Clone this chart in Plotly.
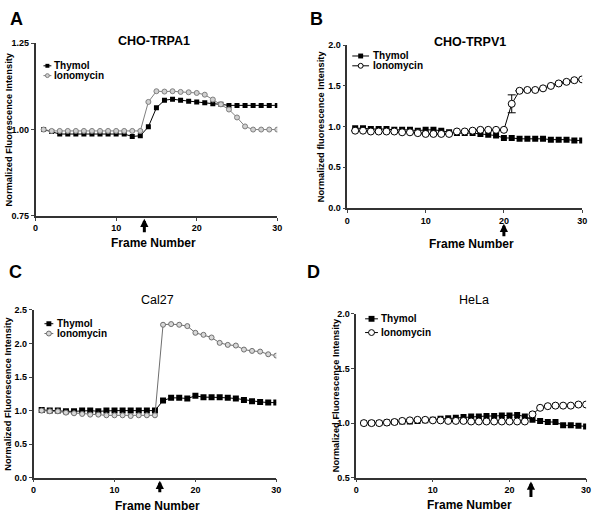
import plotly.graph_objects as go

frames = list(range(1, 31))

# Panel A: CHO-TRPA1
a_thymol = [1.000, 0.994, 0.987, 0.987, 0.987, 0.987, 0.987, 0.987, 0.987, 0.987, 0.987, 0.980, 0.982, 1.008, 1.063,
            1.085, 1.088, 1.085, 1.082, 1.080, 1.078, 1.075, 1.073, 1.070, 1.070, 1.070, 1.070, 1.070, 1.070, 1.070]
a_iono = [1.000, 0.996, 0.996, 0.996, 0.996, 0.996, 0.996, 0.996, 0.996, 0.996, 0.996, 0.996, 0.996, 1.080, 1.111,
          1.110, 1.111, 1.109, 1.108, 1.106, 1.101, 1.087, 1.073, 1.058, 1.035, 1.009, 1.000, 1.000, 1.000, 1.000]

# Panel B: CHO-TRPV1
b_thymol = [0.98, 0.98, 0.97, 0.97, 0.97, 0.96, 0.96, 0.96, 0.95, 0.96, 0.96, 0.95, 0.93, 0.92, 0.92,
            0.92, 0.91, 0.90, 0.89, 0.86, 0.86, 0.85, 0.85, 0.85, 0.85, 0.84, 0.84, 0.84, 0.83, 0.83]
b_iono = [0.95, 0.95, 0.94, 0.94, 0.94, 0.94, 0.93, 0.93, 0.92, 0.91, 0.91, 0.91, 0.91, 0.94, 0.94,
          0.95, 0.96, 0.96, 0.96, 0.96, 1.28, 1.44, 1.45, 1.45, 1.47, 1.50, 1.53, 1.55, 1.57, 1.58]
b_iono_err = [0] * 20 + [0.11] + [0] * 9

# Panel C: Cal27
c_thymol = [1.01, 1.00, 1.00, 0.99, 0.99, 1.00, 1.00, 0.99, 1.00, 1.00, 1.00, 1.00, 1.00, 1.00, 1.00,
            1.15, 1.19, 1.19, 1.18, 1.22, 1.20, 1.20, 1.20, 1.19, 1.18, 1.16, 1.14, 1.13, 1.12, 1.12]
c_iono = [1.00, 0.99, 0.99, 0.97, 0.96, 0.95, 0.94, 0.94, 0.93, 0.93, 0.93, 0.92, 0.93, 0.93, 0.93,
          2.28, 2.29, 2.28, 2.26, 2.16, 2.13, 2.09, 2.01, 1.98, 1.97, 1.91, 1.89, 1.88, 1.84, 1.82]

# Panel D: HeLa
d_thymol = [1.00, 1.00, 1.00, 1.005, 1.01, 1.015, 1.015, 1.02, 1.025, 1.03, 1.04, 1.045, 1.05, 1.055, 1.06,
            1.06, 1.065, 1.065, 1.07, 1.07, 1.075, 1.06, 1.03, 1.02, 1.01, 1.01, 0.98, 0.98, 0.975, 0.97]
d_iono = [1.00, 1.00, 1.00, 1.005, 1.01, 1.02, 1.025, 1.03, 1.03, 1.025, 1.025, 1.02, 1.02, 1.02, 1.015,
          1.015, 1.015, 1.015, 1.015, 1.015, 1.015, 1.015, 1.08, 1.14, 1.155, 1.16, 1.16, 1.16, 1.17, 1.17]

titles = ["CHO-TRPA1", "CHO-TRPV1", "Cal27", "HeLa"]
letters = ["A", "B", "C", "D"]
ytitles = ["Normalized Fluorescence Intensity", "Normalized fluorescence Intensity",
           "Normalized Fluorescence Intensity", "Normalized Fluorescence Intensity"]
series_names = ["Thymol", "Ionomycin"]
y_ranges = [(0.75, 1.25), (0.0, 2.0), (0.0, 2.5), (0.5, 2.0)]
y_dticks = [0.25, 0.5, 0.5, 0.5]
y_formats = [".2f", ".1f", ".1f", ".1f"]
x_ticks = [0, 10, 20, 30]
arrow_frames = [13.5, 20, 15.6, 22.8]

W, H = 600, 518
FONT = "Liberation Sans, Arial, sans-serif"

def px(x):
    return x / W

def py(y):
    return 1 - y / H

# pixel boxes of the plot areas: (left, right, top, bottom)
boxes = [(33, 278, 39, 215), (349, 587, 41, 207), (31, 277, 311, 482), (358, 591, 315, 482)]

fig = go.Figure()

series = [(a_thymol, a_iono, None), (b_thymol, b_iono, b_iono_err),
          (c_thymol, c_iono, None), (d_thymol, d_iono, None)]
sq_sizes = [5, 6, 6, 6]
ci_sizes = [5, 7, 5, 7]
ci_line = ["#7f7f7f", "#000000", "#6f6f6f", "#000000"]
ci_fill = ["#d0d0d0", "#ffffff", "#d8d8d8", "#ffffff"]

for i, (thy, ion, err) in enumerate(series):
    ax = "" if i == 0 else str(i + 1)
    fig.add_trace(go.Scatter(
        x=frames, y=thy, name=series_names[0], mode="lines+markers",
        line=dict(color="black", width=1),
        marker=dict(symbol="square", size=sq_sizes[i], color="black"),
        xaxis="x" + ax, yaxis="y" + ax, showlegend=False))
    kw = {}
    if err is not None:
        kw["error_y"] = dict(type="data", array=err, color="black", thickness=1, width=4)
    fig.add_trace(go.Scatter(
        x=frames, y=ion, name=series_names[1], mode="lines+markers",
        line=dict(color=ci_line[i], width=1),
        marker=dict(symbol="circle", size=ci_sizes[i], color=ci_fill[i],
                    line=dict(color=ci_line[i], width=1)),
        xaxis="x" + ax, yaxis="y" + ax, showlegend=False, **kw))

layout = dict(
    width=W, height=H, margin=dict(l=0, r=0, t=0, b=0),
    paper_bgcolor="white", plot_bgcolor="white",
    font=dict(family=FONT, color="black"),
    showlegend=False,
)

annotations = []
shapes = []

# manual legend geometry: (line x0, line x1, text x, y thymol, y ionomycin, marker size)
leg = [(41, 49, 50, 62, 72, 4), (354, 371, 373, 52, 62, 5),
       (42, 51, 53, 325, 335, 5), (367, 380, 381, 320, 334, 6)]
title_pos = [(153, 37, "bold"), (473, 38, "bold"), (157, 301, "normal"), (477, 301, "normal")]
letter_pos = [(5, 14), (309, 14), (4, 272), (306, 272)]
ytitle_x = [6, 322, 5, 337]
xtitle_pos = [(153, 243), (475, 244), (157, 511), (473, 510)]
arrow_y = [(218, 233), (223, 237), (485, 498), (486, 503)]

for i in range(4):
    l, r, t, b = boxes[i]
    ax = "" if i == 0 else str(i + 1)
    layout["xaxis" + ax] = dict(
        domain=[px(l), px(r)], range=[0, 30], anchor="y" + ax,
        tickvals=x_ticks, ticks="outside", ticklen=3, tickwidth=1,
        showline=True, linecolor="#333", linewidth=1.5, showgrid=False, zeroline=False,
        tickfont=dict(size=9, family=FONT, weight="bold"))
    y0, y1 = y_ranges[i]
    layout["yaxis" + ax] = dict(
        domain=[py(b), py(t)], range=[y0, y1], anchor="x" + ax,
        dtick=y_dticks[i], tick0=y0, tickformat=y_formats[i], ticks="outside", ticklen=3, tickwidth=1,
        showline=True, linecolor="#333", linewidth=1.5, showgrid=False, zeroline=False,
        tickfont=dict(size=9, family=FONT, weight="bold"))

    # manual legend
    lx0, lx1, tx, yt, yi, ms = leg[i]
    mx = (lx0 + lx1) / 2
    for yy, nm, is_sq in [(yt, series_names[0], True), (yi, series_names[1], False)]:
        lc = "black" if is_sq else ci_line[i]
        shapes.append(dict(type="line", xref="paper", yref="paper", x0=px(lx0), x1=px(lx1),
                           y0=py(yy), y1=py(yy), line=dict(color=lc, width=1)))
        h = ms / 2
        if is_sq:
            shapes.append(dict(type="rect", xref="paper", yref="paper", x0=px(mx - h), x1=px(mx + h),
                               y0=py(yy + h), y1=py(yy - h), fillcolor="black", line=dict(width=0)))
        else:
            shapes.append(dict(type="circle", xref="paper", yref="paper", x0=px(mx - h), x1=px(mx + h),
                               y0=py(yy + h), y1=py(yy - h), fillcolor=ci_fill[i],
                               line=dict(color=lc, width=1)))
        annotations.append(dict(text=nm, x=px(tx), y=py(yy), xref="paper", yref="paper",
                                showarrow=False, xanchor="left", yanchor="middle",
                                font=dict(size=10, family=FONT, weight="bold")))

    # panel title
    tx_, ty_, tw_ = title_pos[i]
    annotations.append(dict(text=titles[i], x=px(tx_), y=py(ty_), xref="paper", yref="paper",
                            showarrow=False, xanchor="center", yanchor="middle",
                            font=dict(size=12.5, family=FONT, weight=tw_)))
    # panel letter
    annotations.append(dict(text=letters[i], x=px(letter_pos[i][0]), y=py(letter_pos[i][1]),
                            xref="paper", yref="paper", showarrow=False, xanchor="left", yanchor="middle",
                            font=dict(size=18, family=FONT, weight="bold")))
    # y title
    annotations.append(dict(text=ytitles[i], x=px(ytitle_x[i]), y=py((t + b) / 2), xref="paper", yref="paper",
                            showarrow=False, textangle=-90, xanchor="center", yanchor="middle",
                            font=dict(size=9.3, family=FONT, weight="bold")))
    # x title
    annotations.append(dict(text="Frame Number", x=px(xtitle_pos[i][0]), y=py(xtitle_pos[i][1]),
                            xref="paper", yref="paper", showarrow=False, xanchor="center", yanchor="middle",
                            font=dict(size=12, family=FONT, weight="bold")))
    # stimulus arrow
    ah, at = arrow_y[i]
    annotations.append(dict(text="", x=arrow_frames[i], xref="x" + ax, y=py(ah), yref="paper",
                            showarrow=True, ax=0, ay=at - ah, arrowhead=2, arrowsize=0.55, arrowwidth=3,
                            arrowcolor="black"))

layout["annotations"] = annotations
layout["shapes"] = shapes
fig.update_layout(**layout)
fig.write_html("out.html", config={"displayModeBar": False},
               post_script="document.body.style.margin='0';")
